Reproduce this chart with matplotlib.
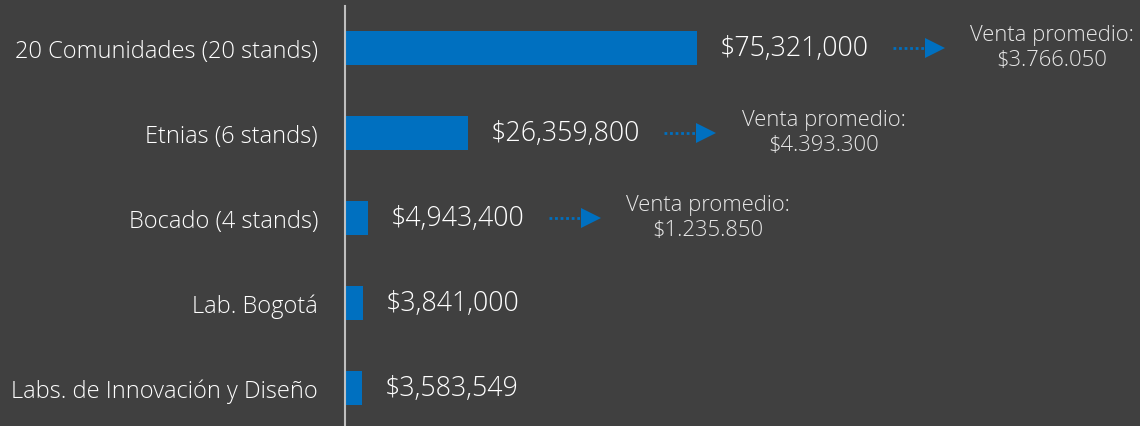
import matplotlib
matplotlib.use("Agg")
import matplotlib.pyplot as plt

categories = ["20 Comunidades (20 stands)", "Etnias (6 stands)", "Bocado (4 stands)",
              "Lab. Bogotá", "Labs. de Innovación y Diseño"]
values = [75321000, 26359800, 4943400, 3841000, 3583549]
value_labels = ["$75,321,000", "$26,359,800", "$4,943,400", "$3,841,000", "$3,583,549"]
avg_labels = ["Venta promedio:\n$3.766.050", "Venta promedio:\n$4.393.300",
              "Venta promedio:\n$1.235.850", None, None]

BG = "#404040"
BLUE = "#0070C0"
FONT = ["Open Sans", "DejaVu Sans"]
WEIGHT = 300

W, H = 1140, 427
fig = plt.figure(figsize=(W / 100, H / 100), dpi=100, facecolor=BG)
ax = fig.add_axes([345 / W, 0, 1 - 345 / W, 420 / H])
ax.set_facecolor(BG)

y = list(range(len(categories)))
ax.barh(y, values, height=0.4, color=BLUE)
ax.set_ylim(4.447, -0.494)
ax.set_xlim(0, (W - 345) / (352 / 75321000))

for s in ["top", "right", "bottom"]:
    ax.spines[s].set_visible(False)
ax.spines["left"].set_color("#BFBFBF")
ax.spines["left"].set_linewidth(1.5)
ax.set_xticks([])
ax.set_yticks(y)
ax.set_yticklabels(categories, family=FONT, fontsize=17.0, color="white", fontweight=WEIGHT)
ax.tick_params(axis="y", length=0, pad=19.5)

fig.canvas.draw()
renderer = fig.canvas.get_renderer()
inv = ax.transData.inverted()
for i, (v, lab, avg) in enumerate(zip(values, value_labels, avg_labels)):
    t = ax.annotate(lab, (v, i), xytext=(16.5, 0), textcoords="offset points",
                    va="center", ha="left", fontsize=19.3, color="white", family=FONT,
                    fontweight=WEIGHT)
    if avg is None:
        continue
    bb = t.get_window_extent(renderer)
    yd = ax.transData.transform((0, i))[1]
    x0 = bb.x1 + 24
    x1 = x0 + 42
    (dx0, _), (dx1, _) = inv.transform([(x0, yd), (x1, yd)])
    ax.plot([dx0, dx1 - 0.5 * (dx1 - dx0) / 42 * 8], [i, i], color=BLUE, lw=2,
            ls=(0, (1, 1)), solid_capstyle="butt")
    ax.plot([dx1], [i], marker=">", color=BLUE, markersize=14, markeredgewidth=0)
    xc = inv.transform((x1 + 117, yd))[0]
    ax.text(xc, i - 0.01, avg, ha="center", va="center", fontsize=15.8,
            color="#E8E8E8", family=FONT, fontweight=WEIGHT, linespacing=1.22)

fig.savefig("out.png", dpi=100, facecolor=BG)
